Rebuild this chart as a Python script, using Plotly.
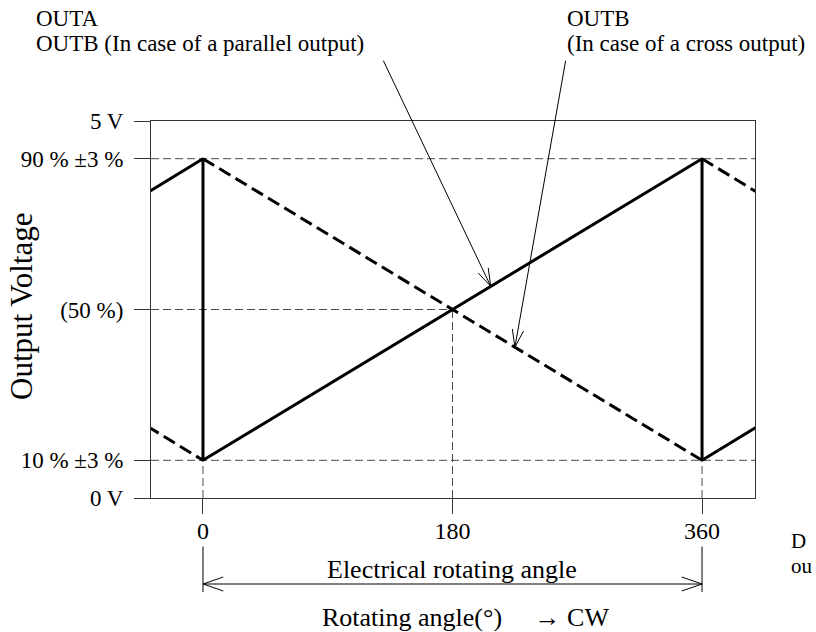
import numpy as np
import plotly.graph_objects as go

# ---------------- data ----------------
angle_outa = [-40, 0, 0, 360, 360, 400]
volt_outa = [4.05, 4.5, 0.5, 4.5, 0.5, 0.95]

angle_outb = [-40, 0, None, 0, 360, None, 360, 400]
volt_outb = [0.95, 0.5, None, 4.5, 0.5, None, 4.5, 4.05]

x_tick_vals = [0, 180, 360]
x_tick_text = ["0", "180", "360"]
y_tick_vals = [0, 0.5, 2.5, 4.5, 5]
y_tick_text = ["0 V", "10 % ±3 %", "(50 %)", "90 % ±3 %", "5 V"]

level_high, level_mid, level_low = 4.5, 2.5, 0.5
angle_start, angle_mid, angle_end = 0, 180, 360

pointer_outa = (207.5, 2.81)   # arrow tip on OUTA
pointer_outb = (225.0, 2.0)    # arrow tip on OUTB

# ---------------- layout geometry ----------------
W, H = 816, 632
ML, MR, MT, MB = 151, 61, 121, 134
PW, PH = W - ML - MR, H - MT - MB
X_RANGE = [-37.5, 398.2]
Y_RANGE = [0, 5]


def pxx(p):
    return (p - ML) / PW


def pxy(p):
    return (H - MB - p) / PH


FONT = "Liberation Serif, Times New Roman, serif"
INK = "#000000"
GUIDE = "#4a4a4a"
FRAME = "#333333"

fig = go.Figure()

fig.add_trace(go.Scatter(x=angle_outb, y=volt_outb, mode="lines",
                         line=dict(color=INK, width=3, dash="13px,6px"),
                         connectgaps=False, hoverinfo="skip", showlegend=False))
fig.add_trace(go.Scatter(x=angle_outa, y=volt_outa, mode="lines",
                         line=dict(color=INK, width=3),
                         hoverinfo="skip", showlegend=False))

# guide lines
gl = dict(color=GUIDE, width=1, dash="8px,4px")
shapes = [
    dict(type="line", xref="paper", yref="y", x0=0, x1=1, y0=level_high, y1=level_high, line=gl, layer="below"),
    dict(type="line", xref="paper", yref="y", x0=0, x1=1, y0=level_low, y1=level_low, line=gl, layer="below"),
    dict(type="line", xref="x", yref="y", x0=X_RANGE[0], x1=angle_mid, y0=level_mid, y1=level_mid, line=gl, layer="below"),
    dict(type="line", xref="x", yref="y", x0=angle_start, x1=angle_start, y0=0, y1=level_high, line=gl, layer="below"),
    dict(type="line", xref="x", yref="y", x0=angle_mid, x1=angle_mid, y0=0, y1=level_mid, line=gl, layer="below"),
    dict(type="line", xref="x", yref="y", x0=angle_end, x1=angle_end, y0=0, y1=level_high, line=gl, layer="below"),
]

ann = []


def text(t, x, y, size, xanchor="left", angle=0):
    ann.append(dict(text=t, x=pxx(x), y=pxy(y), xref="paper", yref="paper",
                    xanchor=xanchor, yanchor="middle", showarrow=False,
                    textangle=angle, font=dict(family=FONT, size=size, color=INK)))


def seg(x, y, ax, ay, xref="x", yref="y", width=1):
    ann.append(dict(text="", x=x, y=y, xref=xref, yref=yref, ax=ax, ay=ay,
                    axref="pixel", ayref="pixel", showarrow=True, arrowhead=0,
                    arrowwidth=width, arrowcolor=INK, standoff=0, startstandoff=0))


def vhead(x, y, ux, uy, xref="x", yref="y", length=20, half_angle=18):
    n = np.hypot(ux, uy)
    ux, uy = ux / n, uy / n
    for s in (1, -1):
        a = np.radians(half_angle) * s
        rx = ux * np.cos(a) - uy * np.sin(a)
        ry = ux * np.sin(a) + uy * np.cos(a)
        seg(x, y, float(rx * length), float(ry * length), xref, yref)


# top labels
text("OUTA", 34, 18, 23)
text("OUTB (In case of a parallel output)", 34, 44, 23)
text("OUTB", 565, 18, 23)
text("(In case of a cross output)", 565, 44, 23)

# pointer arrows
pa_tail = (-108, -227)
seg(pointer_outa[0], pointer_outa[1], *pa_tail)
vhead(pointer_outa[0], pointer_outa[1], *pa_tail)
pb_tail = (51, -288)
seg(pointer_outb[0], pointer_outb[1], *pb_tail)
vhead(pointer_outb[0], pointer_outb[1], *pb_tail)

# y axis title
text("Output Voltage", 21, 307, 31, xanchor="center", angle=-90)

# dimension: electrical rotating angle
dim_y = pxy(584)
for a in (angle_start, angle_end):
    seg(a, pxy(592), 0, -47, xref="x", yref="paper")
ann.append(dict(text="", x=angle_end, y=dim_y, xref="x", yref="paper",
                ax=angle_start, ay=0, axref="x", ayref="pixel", showarrow=True,
                arrowhead=0, arrowwidth=1, arrowcolor=INK, standoff=0, startstandoff=0))
vhead(angle_start, dim_y, 1, 0, xref="x", yref="paper", length=23, half_angle=19)
vhead(angle_end, dim_y, -1, 0, xref="x", yref="paper", length=23, half_angle=19)
text("Electrical rotating angle", 452, 569, 26, xanchor="center")
text("Rotating angle(°)\u00a0\u00a0\u00a0\u00a0\u00a0→ CW", 320, 617, 26)

# note at the right edge (cut off in the reference)
text("D", 789, 541, 21)
text("ou", 789, 566, 21)

fig.update_layout(
    width=W, height=H, autosize=False,
    margin=dict(l=ML, r=MR, t=MT, b=MB, pad=0),
    paper_bgcolor="white", plot_bgcolor="white",
    shapes=shapes, annotations=ann,
    font=dict(family=FONT, size=23, color=INK),
    xaxis=dict(range=X_RANGE, tickvals=x_tick_vals, ticktext=x_tick_text,
               ticks="outside", ticklen=15, tickwidth=1, tickcolor=FRAME,
               showline=True, linecolor=FRAME, linewidth=1, mirror=True,
               showgrid=False, zeroline=False, ticklabelstandoff=-4,
               tickfont=dict(family=FONT, size=24, color=INK)),
    yaxis=dict(range=Y_RANGE, tickvals=y_tick_vals, ticktext=y_tick_text,
               ticks="outside", ticklen=16, tickwidth=1, tickcolor=FRAME,
               showline=True, linecolor=FRAME, linewidth=1, mirror=True,
               showgrid=False, zeroline=False, ticklabelstandoff=6,
               tickfont=dict(family=FONT, size=23, color=INK)),
)

fig.write_html("out.html", config={"displayModeBar": False},
               post_script="document.body.style.margin='0';")
